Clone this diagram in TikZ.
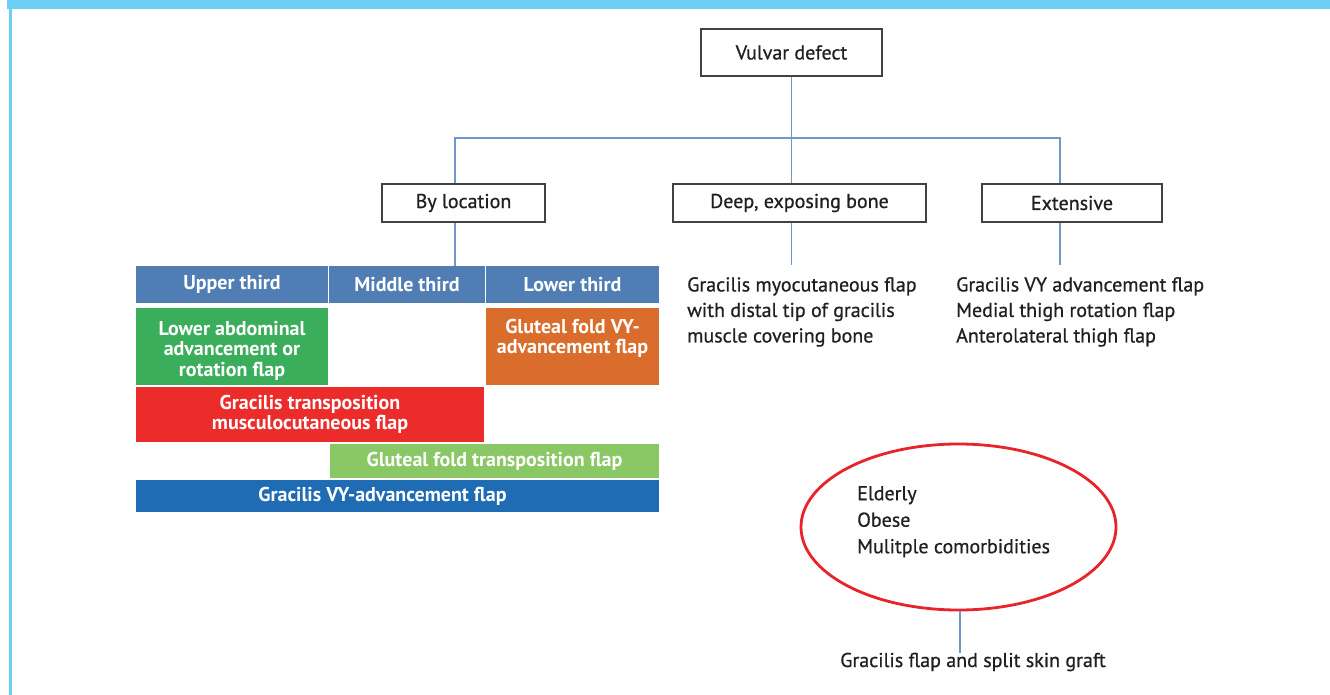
\documentclass[tikz,border=0pt]{standalone}
\usepackage{fontspec}
\setmainfont{PT Sans}
\newfontfamily\medfont{PT Sans}[FakeBold=0.7]
\usetikzlibrary{shapes.geometric}
\definecolor{band}{HTML}{6CCFF6}
\definecolor{hdr}{HTML}{4F7DB4}
\definecolor{grn}{HTML}{3BAE5B}
\definecolor{org}{HTML}{DA6C2C}
\definecolor{rd}{HTML}{EC2B2B}
\definecolor{lgrn}{HTML}{8AC865}
\definecolor{blu}{HTML}{1F6CB5}
\definecolor{conn}{HTML}{7396CB}
\definecolor{ink}{HTML}{231F20}
\definecolor{ell}{HTML}{E8232A}
\tikzset{
  tbox/.style={draw=ink!85, line width=1.7pt, fill=white, text=ink,
    font=\medfont\fontsize{20}{22}\selectfont, inner sep=0pt},
  cell/.style={inner sep=0pt, text=white, font=\bfseries\fontsize{20}{20.5}\selectfont, align=center},
  plain/.style={text=ink, font=\medfont\fontsize{20}{25.5}\selectfont, align=left, inner sep=0pt},
  link/.style={draw=conn, line width=1.5pt},
}
\begin{document}
\begin{tikzpicture}[x=1pt,y=-1pt]
\useasboundingbox (0,0) rectangle (1330,695);
\fill[white] (0,0) rectangle (1330,695);
\fill[band] (7,0) rectangle (1330,9.5);
\fill[band] (8.5,9.5) rectangle (11.5,695);

% top boxes
\node[tbox, minimum width=181, minimum height=47] (vd) at (791.5,52.5) {Vulvar defect};
\node[tbox, minimum width=163, minimum height=38] (byl) at (463.5,203) {By location};
\node[tbox, minimum width=253, minimum height=38] (deep) at (799.5,203) {Deep, exposing bone};
\node[tbox, minimum width=180, minimum height=38] (ext) at (1072,203) {Extensive};

% table
\node[cell, fill=hdr, minimum width=192, minimum height=37] (up) at (232,284.5) {Upper third};
\node[cell, fill=hdr, minimum width=156, minimum height=37] (mid) at (407,284.5) {Middle third};
\node[cell, fill=hdr, minimum width=173, minimum height=37] (low) at (572.5,284.5) {Lower third};
\node[cell, fill=grn, minimum width=192, minimum height=77] (lab) at (232,346.5) {\rule{0pt}{22pt}Lower abdominal\\advancement or\\rotation flap};
\node[cell, fill=org, minimum width=173, minimum height=77] (gvy) at (572.5,346.5) {Gluteal fold VY-\\advancement flap\rule[-20pt]{0pt}{20pt}};
\node[cell, fill=rd, minimum width=348, minimum height=55] (gtm) at (310,414.5) {Gracilis transposition\\musculocutaneous flap};
\node[cell, fill=lgrn, minimum width=329, minimum height=34] (gft) at (494.5,461) {Gluteal fold transposition flap};
\node[cell, fill=blu, minimum width=523, minimum height=32] (gva) at (397.5,496) {Gracilis VY-advancement flap\hspace*{30pt}};

% lists
\node[plain, anchor=north west] (deeptxt) at (687,277) {Gracilis myocutaneous flap\\with distal tip of gracilis\\muscle covering bone};
\node[plain, anchor=north west] (exttxt) at (956,277) {Gracilis VY advancement flap\\Medial thigh rotation flap\\Anterolateral thigh flap};

% ellipse
\node[draw=ell, line width=2.8pt, ellipse, minimum width=315, minimum height=166, inner sep=0pt] (el) at (958.5,527) {};
\node[plain, anchor=north west, font=\medfont\fontsize{20}{26.5}\selectfont] (eltxt) at (857,486) {Elderly\\Obese\\Mulitple comorbidities};
\node[plain] (gf) at (973,662) {Gracilis flap and split skin graft};

% connectors
\coordinate (jl) at (455,138);
\coordinate (jm) at (791.5,138);
\coordinate (jr) at (1060,138);
\coordinate (dend) at (791.5,265);
\coordinate (eend) at (1060,265);
\coordinate (gfend) at (960,653);
\draw[link] (vd.south) -- (vd.south |- deep.north);
\draw[link] (jl |- byl.north) -- (jl) -- (jr) -- (jr |- ext.north);
\draw[link] (jl |- byl.south) -- (jl |- up.north);
\draw[link] (jm |- deep.south) -- (dend);
\draw[link] (jr |- ext.south) -- (eend);
\draw[link] (gfend |- el.south) -- (gfend);
\end{tikzpicture}
\end{document}
